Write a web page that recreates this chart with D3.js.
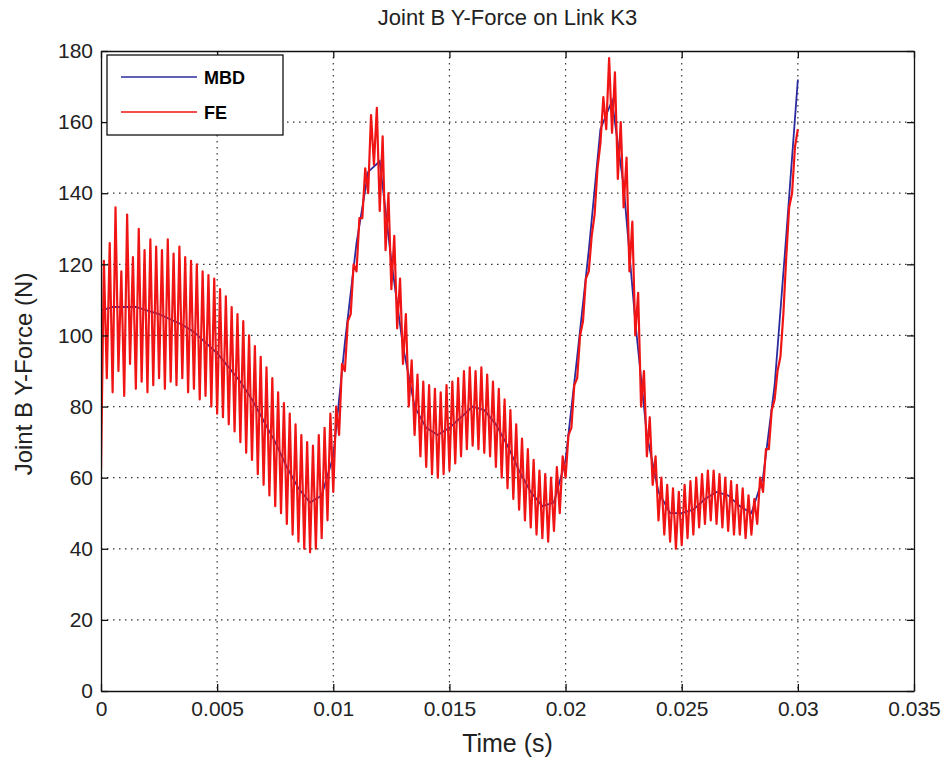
<!DOCTYPE html>
<html lang="en">
<head>
<meta charset="utf-8">
<title>Joint B Y-Force on Link K3</title>
<script src="https://cdn.jsdelivr.net/npm/d3@7"></script>
<style>
  body { margin: 0; background: #fff; }
  svg text { font-family: Arial, "Liberation Sans", sans-serif; fill: #222; }
  .grid line { stroke: #333; stroke-width: 1.2; stroke-dasharray: 1.5,4.5; }
  .axis path, .axis line { stroke: #111; stroke-width: 1.3; }
</style>
</head>
<body>
<script>
// ---- data ----
var xTicks = [0, 0.005, 0.01, 0.015, 0.02, 0.025, 0.03, 0.035];
var xTickLabels = ["0", "0.005", "0.01", "0.015", "0.02", "0.025", "0.03", "0.035"];
var yTicks = [0, 20, 40, 60, 80, 100, 120, 140, 160, 180];

// MBD force, sampled every 0.5 ms from t = 0 to 0.03 s
var mbdStep = 0.0005;
var mbdValues = [107, 108, 108, 108, 107, 106, 104.5, 103, 101, 98,
                 95, 91, 87, 82, 76, 70, 63, 57, 53, 55,
                 66, 98, 126, 146, 149, 121, 97, 80, 74, 72,
                 74, 77, 80, 79, 75, 69, 62, 56, 52, 53,
                 65, 94, 124, 158, 166, 142, 104, 72, 56, 50,
                 50, 51, 54, 56, 55, 52, 50, 60, 86, 128,
                 172];

// FE force, valley / peak pairs every 0.125 ms
var feStep = 0.000125;
var feValues = [62,121, 88,126, 84,136, 90,118, 83,134, 92,122, 85,130, 87,124,
                84,127, 86,125, 88,124, 85,127, 87,123, 86,125, 88,122, 84,121,
                85,120, 82,118, 83,117, 80,116, 78,113, 77,111, 75,108, 73,106,
                70,104, 67,100, 65,97, 61,94, 58,91, 55,88, 52,84, 50,81,
                47,78, 44,75, 42,72, 40,70, 39,69, 40,72, 43,74, 48,78,
                56,80, 72,92, 90,104, 106,120, 118,133, 133,147, 140,162, 148,164,
                135,156, 124,140, 113,128, 102,116, 92,106, 80,93, 72,89, 66,87,
                63,86, 61,85, 60,84, 61,86, 62,87, 64,88, 66,90, 68,91,
                69,90, 68,91, 67,89, 66,87, 63,85, 60,82, 57,79, 54,75,
                51,71, 48,68, 46,65, 44,62, 43,61, 42,60, 45,63, 50,66,
                60,72, 74,86, 88,100, 104,116, 118,128, 134,147, 154,167, 158,178,
                157,174, 144,160, 136,150, 118,132, 100,112, 80,90, 66,77, 58,66,
                48,60, 44,58, 42,57, 40,56, 41,58, 43,59, 44,60, 46,61,
                47,62, 48,62, 47,61, 46,60, 45,59, 44,58, 44,57, 43,55,
                44,54, 47,60, 56,68, 68,79, 82,90, 94,106, 122,136, 140,153,
                158];

var seriesNames = ["MBD", "FE"];
var seriesColors = ["#2b2b9e", "#f01414"];

drawChart();

function drawChart() {
  // plot box in pixels (window.top is taken, so keep these local)
  var width = 946, height = 758;
  var pLeft = 101, pRight = 914, pTop = 51, pBottom = 691;

  var svg = d3.select("body").append("svg")
      .attr("width", width)
      .attr("height", height);

  var x = d3.scaleLinear().domain([0, 0.035]).range([pLeft, pRight]);
  var y = d3.scaleLinear().domain([0, 180]).range([pBottom, pTop]);

  svg.append("defs").append("clipPath").attr("id", "plotclip")
    .append("rect")
      .attr("x", pLeft).attr("y", pTop)
      .attr("width", pRight - pLeft).attr("height", pBottom - pTop);

  // dotted grid
  var grid = svg.append("g").attr("class", "grid");
  grid.selectAll("line.gx")
    .data(xTicks.slice(1, -1))
    .enter().append("line").attr("class", "gx")
      .attr("x1", function(d){ return x(d); }).attr("x2", function(d){ return x(d); })
      .attr("y1", pTop).attr("y2", pBottom);
  grid.selectAll("line.gy")
    .data(yTicks.slice(1, -1))
    .enter().append("line").attr("class", "gy")
      .attr("y1", function(d){ return y(d); }).attr("y2", function(d){ return y(d); })
      .attr("x1", pLeft).attr("x2", pRight);

  // lines
  var mbd = mbdValues.map(function(v, i){ return [i * mbdStep, v]; });
  var fe = feValues.map(function(v, i){ return [i * feStep, v]; });

  var line = d3.line()
      .x(function(d){ return x(d[0]); })
      .y(function(d){ return y(d[1]); });

  var plot = svg.append("g").attr("clip-path", "url(#plotclip)");
  plot.append("path")
      .datum(mbd)
      .attr("fill", "none")
      .attr("stroke", seriesColors[0])
      .attr("stroke-width", 1.8)
      .attr("d", line);
  plot.append("path")
      .datum(fe)
      .attr("fill", "none")
      .attr("stroke", seriesColors[1])
      .attr("stroke-width", 2.2)
      .attr("stroke-linejoin", "round")
      .attr("d", line);

  // axes, MATLAB style: ticks pointing inward on all four sides
  var fontSize = "21px";
  var xAxis = svg.append("g").attr("class", "axis")
      .attr("transform", "translate(0," + pBottom + ")")
      .call(d3.axisBottom(x).tickValues(xTicks)
            .tickFormat(function(d, i){ return xTickLabels[i]; })
            .tickSizeInner(-7).tickSizeOuter(0).tickPadding(10));
  xAxis.selectAll("text").style("font-size", fontSize);

  var yAxis = svg.append("g").attr("class", "axis")
      .attr("transform", "translate(" + pLeft + ",0)")
      .call(d3.axisLeft(y).tickValues(yTicks)
            .tickSizeInner(-7).tickSizeOuter(0).tickPadding(8));
  yAxis.selectAll("text").style("font-size", fontSize);

  svg.append("g").attr("class", "axis")
      .attr("transform", "translate(0," + pTop + ")")
      .call(d3.axisTop(x).tickValues(xTicks).tickFormat("")
            .tickSizeInner(-7).tickSizeOuter(0));
  svg.append("g").attr("class", "axis")
      .attr("transform", "translate(" + pRight + ",0)")
      .call(d3.axisRight(y).tickValues(yTicks).tickFormat("")
            .tickSizeInner(-7).tickSizeOuter(0));

  // titles
  svg.append("text")
      .attr("x", (pLeft + pRight) / 2).attr("y", 25)
      .attr("text-anchor", "middle")
      .style("font-size", "22px")
      .text("Joint B Y-Force on Link K3");
  svg.append("text")
      .attr("x", (pLeft + pRight) / 2).attr("y", 752)
      .attr("text-anchor", "middle")
      .style("font-size", "25px")
      .text("Time (s)");
  svg.append("text")
      .attr("transform", "translate(32," + ((pTop + pBottom) / 2 + 3) + ") rotate(-90)")
      .attr("text-anchor", "middle")
      .style("font-size", "24px")
      .text("Joint B Y-Force (N)");

  // legend
  var legend = svg.append("g").attr("transform", "translate(107,55)");
  legend.append("rect")
      .attr("width", 176).attr("height", 80)
      .attr("fill", "#fff").attr("stroke", "#111").attr("stroke-width", 1.3);
  seriesNames.forEach(function(name, i){
    var ly = 22 + i * 35;
    legend.append("line")
        .attr("x1", 14).attr("x2", 90).attr("y1", ly).attr("y2", ly)
        .attr("stroke", seriesColors[i]).attr("stroke-width", 1.6);
    legend.append("text")
        .attr("x", 97).attr("y", ly + 7)
        .style("font-size", "18px").style("font-weight", "bold")
        .style("fill", "#000")
        .text(name);
  });
}
</script>
</body>
</html>
